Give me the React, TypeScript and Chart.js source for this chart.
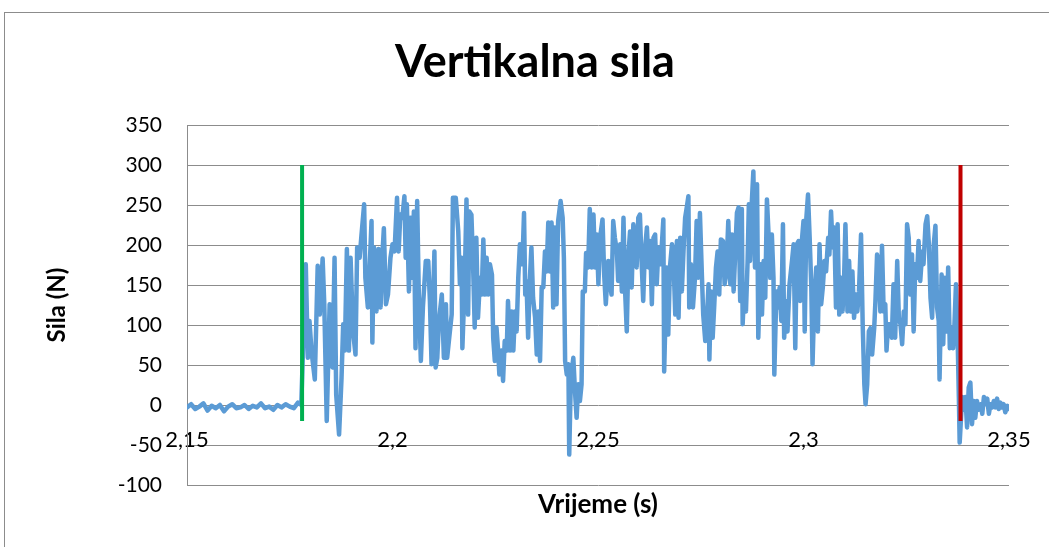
import React, { useEffect, useRef } from 'react';
import { Chart, registerables } from 'chart.js';

Chart.register(...registerables);

const chartTitle = 'Vertikalna sila';
const xAxisTitle = 'Vrijeme (s)';
const yAxisTitle = 'Sila (N)';

const xTickValues = [2.15, 2.2, 2.25, 2.3, 2.35];
const xTickLabels = ['2,15', '2,2', '2,25', '2,3', '2,35'];

const startMarkerTimes = [2.178, 2.178];
const startMarkerForces = [-20, 300];
const endMarkerTimes = [2.3382, 2.3382];
const endMarkerForces = [-20, 300];

const times = [
  2.150, 2.151, 2.152, 2.153, 2.154, 2.155, 2.156, 2.157, 2.158, 2.159,
  2.160, 2.161, 2.162, 2.163, 2.164, 2.165, 2.166, 2.167, 2.168, 2.169,
  2.170, 2.171, 2.172, 2.173, 2.174, 2.175, 2.176, 2.177, 2.1778, 2.1789,
  2.1794, 2.1798, 2.1803, 2.1811, 2.1818, 2.1823, 2.1830, 2.1834, 2.1840, 2.1847,
  2.1854, 2.1859, 2.1863, 2.1870, 2.1876, 2.1880, 2.1884, 2.1889, 2.1894, 2.1898,
  2.1904, 2.1910, 2.1914, 2.1920, 2.1924, 2.1931, 2.1934, 2.1940, 2.1946, 2.1949,
  2.1951, 2.1955, 2.1961, 2.1966, 2.1971, 2.1975, 2.1979, 2.1984, 2.1989, 2.1995,
  2.2000, 2.2005, 2.2011, 2.2015, 2.2019, 2.2024, 2.2029, 2.2032, 2.2035, 2.2040,
  2.2044, 2.2048, 2.2052, 2.2056, 2.2060, 2.2064, 2.2069, 2.2074, 2.2081, 2.2087,
  2.2091, 2.2095, 2.2099, 2.2102, 2.2105, 2.2109, 2.2113, 2.2120, 2.2125, 2.2130,
  2.2133, 2.2138, 2.2144, 2.2147, 2.2154, 2.2160, 2.2164, 2.2168, 2.2170, 2.2176,
  2.2180, 2.2184, 2.2187, 2.2192, 2.2196, 2.2200, 2.2204, 2.2208, 2.2213, 2.2217,
  2.2221, 2.2225, 2.2229, 2.2233, 2.2237, 2.2242, 2.2245, 2.2249, 2.2253, 2.2257,
  2.2260, 2.2265, 2.2269, 2.2273, 2.2278, 2.2281, 2.2286, 2.2290, 2.2294, 2.2298,
  2.2302, 2.2306, 2.2310, 2.2316, 2.2320, 2.2323, 2.2326, 2.2330, 2.2334, 2.2338,
  2.2342, 2.2347, 2.2351, 2.2355, 2.2359, 2.2363, 2.2367, 2.2371, 2.2375, 2.2379,
  2.2383, 2.2387, 2.2391, 2.2395, 2.2399, 2.2403, 2.2409, 2.2414, 2.2417, 2.2420,
  2.2424, 2.2428, 2.2430, 2.2434, 2.2440, 2.2444, 2.2448, 2.2452, 2.2456, 2.2460,
  2.2463, 2.2468, 2.2471, 2.2476, 2.2480, 2.2485, 2.2489, 2.2493, 2.2497, 2.2501,
  2.2505, 2.2511, 2.2515, 2.2519, 2.2525, 2.2529, 2.2533, 2.2537, 2.2541, 2.2546,
  2.2549, 2.2554, 2.2558, 2.2562, 2.2566, 2.2570, 2.2574, 2.2578, 2.2582, 2.2586,
  2.2590, 2.2594, 2.2598, 2.2602, 2.2606, 2.2610, 2.2614, 2.2619, 2.2623, 2.2627,
  2.2631, 2.2635, 2.2639, 2.2643, 2.2647, 2.2651, 2.2655, 2.2659, 2.2661, 2.2667,
  2.2671, 2.2675, 2.2680, 2.2683, 2.2688, 2.2692, 2.2696, 2.2700, 2.2704, 2.2708,
  2.2712, 2.2716, 2.2720, 2.2722, 2.2726, 2.2731, 2.2736, 2.2740, 2.2744, 2.2748,
  2.2753, 2.2756, 2.2761, 2.2765, 2.2769, 2.2771, 2.2775, 2.2779, 2.2783, 2.2787,
  2.2791, 2.2795, 2.2799, 2.2804, 2.2808, 2.2812, 2.2817, 2.2822, 2.2826, 2.2830,
  2.2834, 2.2838, 2.2842, 2.2846, 2.2850, 2.2852, 2.2856, 2.2860, 2.2864, 2.2867,
  2.2870, 2.2874, 2.2878, 2.2882, 2.2887, 2.2890, 2.2895, 2.2899, 2.2903, 2.2907,
  2.2911, 2.2915, 2.2919, 2.2923, 2.2927, 2.2929, 2.2934, 2.2938, 2.2942, 2.2946,
  2.2950, 2.2953, 2.2957, 2.2961, 2.2966, 2.2972, 2.2976, 2.2980, 2.2984, 2.2988,
  2.2992, 2.2996, 2.3000, 2.3003, 2.3007, 2.3011, 2.3015, 2.3019, 2.3022, 2.3026,
  2.3031, 2.3035, 2.3039, 2.3043, 2.3047, 2.3051, 2.3055, 2.3060, 2.3063, 2.3067,
  2.3071, 2.3075, 2.3079, 2.3083, 2.3087, 2.3091, 2.3095, 2.3099, 2.3102, 2.3107,
  2.3111, 2.3115, 2.3119, 2.3123, 2.3127, 2.3131, 2.3135, 2.3140, 2.3144, 2.3148,
  2.3151, 2.3155, 2.3159, 2.3163, 2.3167, 2.3172, 2.3175, 2.3179, 2.3183, 2.3187,
  2.3191, 2.3195, 2.3199, 2.3202, 2.3206, 2.3211, 2.3215, 2.3219, 2.3223, 2.3228,
  2.3232, 2.3236, 2.3240, 2.3244, 2.3248, 2.3252, 2.3256, 2.3260, 2.3264, 2.3268,
  2.3272, 2.3276, 2.3280, 2.3284, 2.3289, 2.3292, 2.3297, 2.3301, 2.3305, 2.3309,
  2.3313, 2.3317, 2.3321, 2.3325, 2.3329, 2.3331, 2.3336, 2.3340, 2.3344, 2.3348,
  2.3352, 2.3356, 2.3359, 2.3364, 2.3367, 2.3371, 2.3375, 2.3378, 2.3380, 2.3386,
  2.3390, 2.3394, 2.3398, 2.3402, 2.3406, 2.3410, 2.3414, 2.3418, 2.3422, 2.3426,
  2.3431, 2.3435, 2.3439, 2.3443, 2.3447, 2.3451, 2.3455, 2.3459, 2.3463, 2.3467,
  2.3471, 2.3475, 2.3479, 2.3483, 2.3487, 2.3491, 2.3496, 2.3499, 2.3504,
];

const forces = [
  -3, 1, -5, -2, 2, -7, -1, -4, 0, -8,
  -2, 1, -4, -3, 0, -5, -1, -3, 2, -4,
  -2, -6, 0, -3, 1, -2, -4, 3, 0, 176,
  59, 105, 67, 32, 174, 113, 183, 126, -20, 126,
  47, 184, 13, -37, 34, 101, 68, 195, 68, 184,
  92, 63, 197, 184, 209, 251, 159, 122, 192, 230,
  78, 197, 117, 195, 122, 184, 221, 126, 138, 184,
  201, 192, 259, 192, 238, 234, 261, 184, 251, 142,
  234, 159, 242, 71, 255, 138, 55, 122, 180, 180,
  130, 51, 138, 192, 47, 59, 105, 138, 59, 126,
  59, 84, 113, 259, 259, 217, 151, 184, 71, 159,
  257, 113, 242, 238, 176, 97, 209, 109, 159, 138,
  207, 138, 184, 138, 176, 163, 84, 55, 97, 68,
  38, 68, 30, 80, 68, 130, 68, 117, 68, 117,
  92, 159, 201, 176, 240, 138, 155, 84, 155, 197,
  134, 109, 63, 117, 55, 147, 147, 192, 167, 228,
  167, 228, 122, 222, 126, 230, 255, 234, 184, 55,
  38, 51, -62, 34, 59, 17, -16, 26, 5, 26,
  142, 142, 190, 172, 245, 172, 238, 172, 213, 151,
  209, 232, 163, 126, 180, 151, 138, 230, 209, 192,
  155, 201, 142, 234, 142, 92, 188, 217, 147, 226,
  205, 172, 234, 238, 180, 130, 192, 222, 172, 205,
  126, 209, 213, 151, 197, 176, 197, 232, 42, 172,
  88, 172, 201, 192, 113, 205, 109, 209, 142, 192,
  234, 247, 261, 122, 176, 122, 159, 230, 159, 240,
  159, 113, 80, 109, 151, 57, 142, 84, 126, 172,
  192, 138, 207, 205, 151, 163, 230, 151, 213, 142,
  192, 240, 247, 130, 245, 101, 151, 117, 180, 251,
  180, 251, 292, 172, 276, 84, 176, 113, 180, 134,
  257, 213, 159, 213, 159, 38, 142, 122, 147, 105,
  226, 84, 130, 92, 151, 180, 201, 71, 201, 205,
  130, 205, 230, 92, 234, 263, 209, 147, 51, 126,
  172, 92, 201, 126, 147, 180, 167, 209, 188, 242,
  197, 222, 122, 226, 113, 159, 117, 163, 226, 117,
  180, 117, 167, 109, 138, 117, 142, 213, 101, 26,
  1, 26, 92, 96, 63, 96, 130, 188, 176, 117,
  199, 117, 126, 68, 101, 101, 84, 151, 84, 180,
  109, 101, 76, 117, 101, 226, 209, 138, 188, 92,
  176, 159, 205, 155, 192, 176, 226, 236, 201, 134,
  109, 201, 224, 122, 105, 32, 163, 76, 159, 92,
  172, 71, 97, 71, 97, 151, 84, 10, -47, 10,
  -6, 10, -28, 22, 28, -24, 5, -16, 5, -6,
  1, -11, 10, 1, 8, -11, 1, -3, 5, -3,
  8, -5, 3, -3, 1, -9, -1, -5, -1,
];

const FONT = 'Lato, "Noto Sans", sans-serif';

export default function App() {
  const canvasRef = useRef<HTMLCanvasElement>(null);

  useEffect(() => {
    const toPoints = (xs: number[], ys: number[]) => xs.map((x, i) => ({ x, y: ys[i] }));
    const chart = new Chart(canvasRef.current!, {
      type: 'scatter',
      data: {
        datasets: [
          {
            data: toPoints(startMarkerTimes, startMarkerForces),
            showLine: true,
            borderColor: '#00B050',
            backgroundColor: '#00B050',
            borderWidth: 4,
            pointRadius: 0,
            order: 1,
          },
          {
            data: toPoints(endMarkerTimes, endMarkerForces),
            showLine: true,
            borderColor: '#C00000',
            backgroundColor: '#C00000',
            borderWidth: 4,
            pointRadius: 0,
            order: 1,
          },
          {
            data: toPoints(times, forces),
            showLine: true,
            borderColor: '#5B9BD5',
            backgroundColor: '#5B9BD5',
            borderWidth: 4.5,
            borderJoinStyle: 'round',
            borderCapStyle: 'round',
            pointRadius: 0,
            tension: 0,
            order: 2,
          },
        ],
      },
      options: {
        animation: false,
        responsive: false,
        events: [],
        layout: { padding: { left: 0, right: 0, top: 0, bottom: 0 } },
        plugins: {
          legend: { display: false },
          tooltip: { enabled: false },
          title: {
            display: true,
            text: chartTitle,
            color: '#000',
            font: { family: FONT, size: 45, weight: 'bold' },
            padding: { top: 35, bottom: 36 },
          },
          subtitle: {
            display: true,
            position: 'bottom',
            fullSize: false,
            text: xAxisTitle,
            color: '#000',
            font: { family: FONT, size: 26, weight: 'bold' },
            padding: { top: 4, bottom: 26.8 },
          },
        },
        scales: {
          x: {
            type: 'linear',
            position: { y: 0 },
            min: 2.15,
            max: 2.35,
            afterBuildTicks: (scale: any) => {
              scale.ticks = xTickValues.map((v) => ({ value: v }));
            },
            ticks: {
              autoSkip: false,
              maxRotation: 0,
              padding: 22,
              color: '#000',
              font: { family: FONT, size: 22 },
              callback: (_v: any, i: number) => xTickLabels[i],
            },
            grid: { display: false, drawTicks: false },
            border: { display: false },
          },
          y: {
            type: 'linear',
            position: 'left',
            min: -100,
            max: 350,
            ticks: {
              stepSize: 50,
              padding: 25,
              color: '#000',
              font: { family: FONT, size: 21 },
            },
            grid: { color: '#8C8C8C', lineWidth: 1, drawTicks: false },
            border: { display: true, color: '#8C8C8C', width: 1 },
            title: {
              display: true,
              text: yAxisTitle,
              color: '#000',
              font: { family: FONT, size: 24, weight: 'bold' },
              padding: { top: 42.6, bottom: 0 },
            },
            afterFit: (scale: any) => {
              scale.width = 187;
            },
          },
          yRight: {
            type: 'linear',
            position: 'right',
            min: -100,
            max: 350,
            ticks: { display: false },
            grid: { display: false, drawTicks: false },
            border: { display: false },
            afterFit: (scale: any) => {
              scale.width = 61;
            },
          },
        },
      },
    } as any);
    return () => chart.destroy();
  }, []);

  return (
    <div style={{ position: 'fixed', left: 0, top: 0, width: 1049, height: 547, overflow: 'hidden', background: '#fff' }}>
      <div
        style={{
          position: 'absolute',
          left: 4,
          top: 12,
          width: 1100,
          height: 600,
          border: '1px solid #8C8C8C',
          boxSizing: 'border-box',
        }}
      />
      <canvas
        ref={canvasRef}
        width={1070}
        height={547}
        style={{ position: 'absolute', left: 0, top: 0, width: 1070, height: 547 }}
      />
    </div>
  );
}
